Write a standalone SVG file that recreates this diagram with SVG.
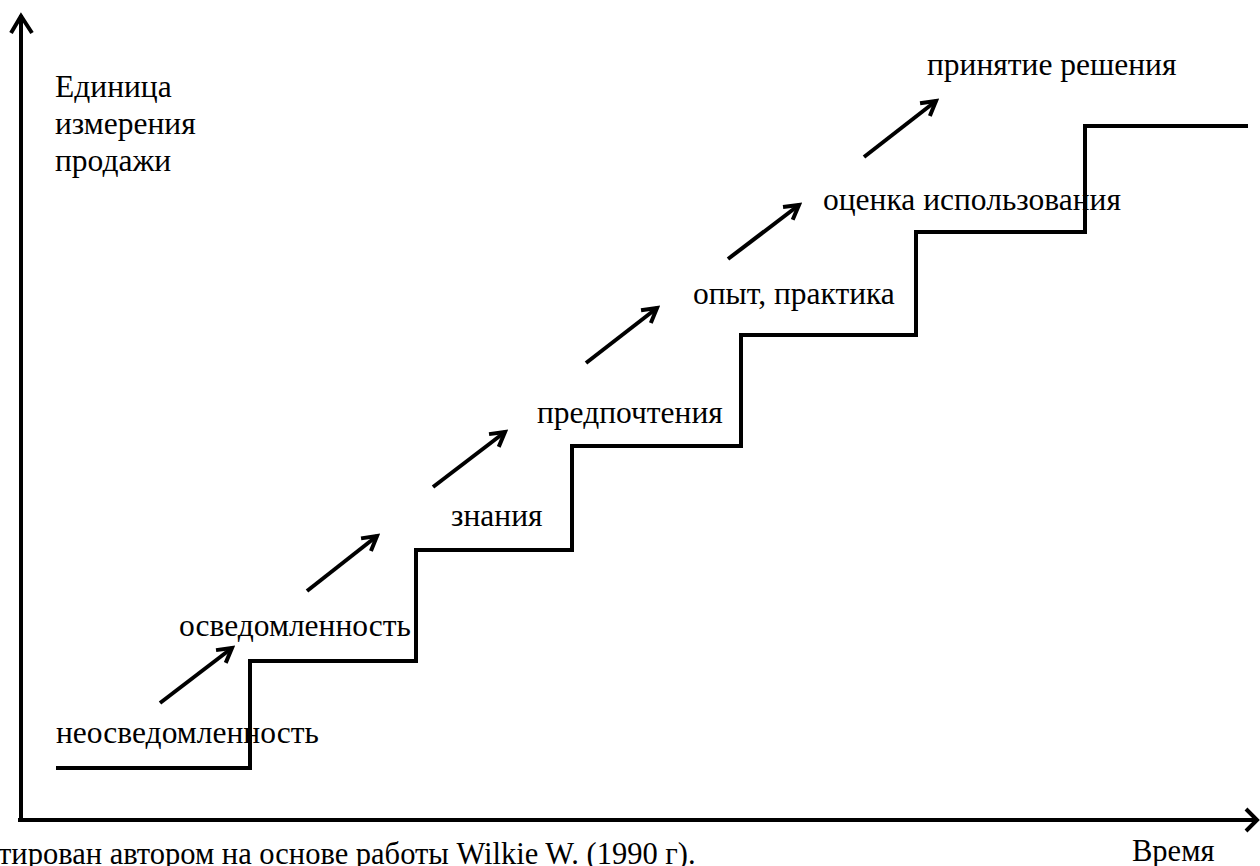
<svg xmlns="http://www.w3.org/2000/svg" width="1260" height="866" viewBox="0 0 1260 866">
<style>
.ln{fill:none;stroke:#000;stroke-width:4;stroke-linejoin:miter;stroke-linecap:butt}
.ar{fill:none;stroke:#000;stroke-width:4;stroke-linecap:butt}
text{font-family:'Liberation Serif',serif;font-size:31.5px;fill:#000}
</style>
<defs>
<marker id="ah" viewBox="0 0 20 20" refX="16" refY="10" markerWidth="20" markerHeight="20" markerUnits="userSpaceOnUse" orient="auto">
<path d="M2,2 L16,10 L2,18" fill="none" stroke="#000" stroke-width="4" stroke-linejoin="miter"/>
</marker>
</defs>
<rect width="1260" height="866" fill="#fff"/>
<g id="axes">
<path class="ln" d="M21,820 V15"/>
<path class="ln" d="M11,33 L21,16 L32,33"/>
<path class="ln" d="M18,820 H1256"/>
<path class="ln" d="M1246,809 L1257,820 L1246,831"/>
</g>
<g id="staircase">
<path class="ln" d="M56,768 H250 V661 H416 V550 H572 V446 H741 V335 H916 V232 H1085 V126 H1248"/>
</g>
<g id="connectors">
<line class="ar" x1="160" y1="703" x2="232" y2="648" marker-end="url(#ah)"/>
<line class="ar" x1="307" y1="591" x2="377" y2="536" marker-end="url(#ah)"/>
<line class="ar" x1="433" y1="487" x2="505" y2="432" marker-end="url(#ah)"/>
<line class="ar" x1="586" y1="363" x2="657" y2="308" marker-end="url(#ah)"/>
<line class="ar" x1="728" y1="259" x2="799" y2="205" marker-end="url(#ah)"/>
<line class="ar" x1="864" y1="157" x2="936" y2="101" marker-end="url(#ah)"/>
</g>
<g id="y-label">
<text x="55" y="97">Единица</text>
<text x="55" y="134">измерения</text>
<text x="55" y="171">продажи</text>
</g>
<g id="stage-1"><text x="56" y="743">неосведомленность</text></g>
<g id="stage-2"><text x="179" y="636">осведомленность</text></g>
<g id="stage-3"><text x="451" y="526">знания</text></g>
<g id="stage-4"><text x="537" y="423">предпочтения</text></g>
<g id="stage-5"><text x="693" y="304">опыт, практика</text></g>
<g id="stage-6"><text x="823" y="210">оценка использования</text></g>
<g id="stage-7"><text x="927" y="75">принятие решения</text></g>
<g id="x-label"><text x="1132" y="861" style="font-size:30.5px">Время</text></g>
<g id="source"><text x="-2" y="864" style="font-size:30.5px">тирован автором на основе работы Wilkie W. (1990 г).</text></g>
</svg>
